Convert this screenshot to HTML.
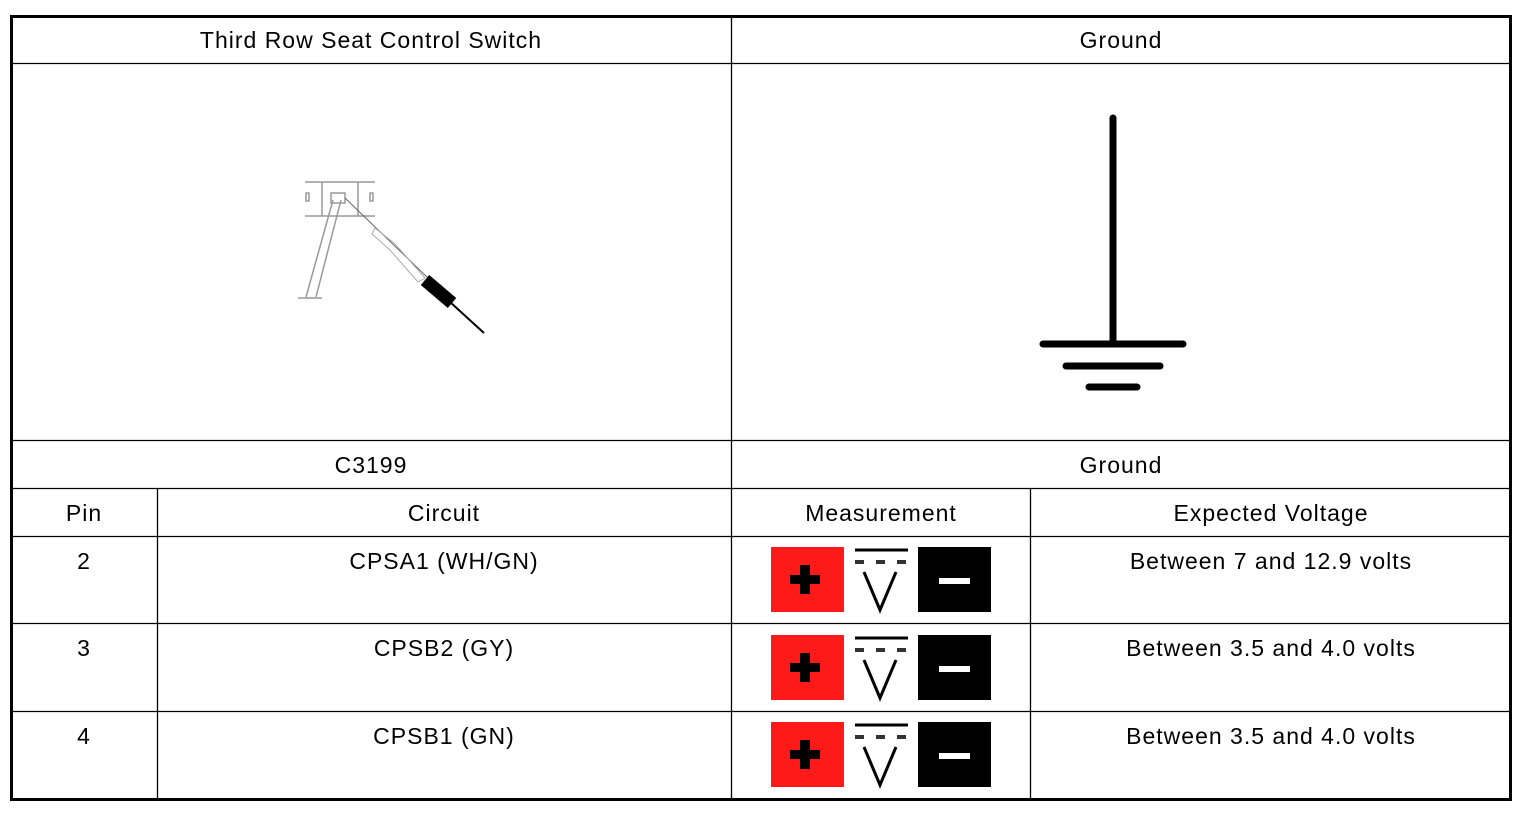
<!DOCTYPE html>
<html><head><style>
body{margin:0;background:#fff;}
svg{display:block}
text{font-family:"Liberation Sans",sans-serif;font-size:23px;letter-spacing:1px;fill:#000;}
</style></head><body>
<svg width="1526" height="814" xmlns="http://www.w3.org/2000/svg">
<rect x="11.5" y="16.5" width="1499" height="783" fill="none" stroke="#000" stroke-width="3"/>
<g stroke="#000" stroke-width="1.3">
<line x1="11" y1="63.5" x2="1511" y2="63.5"/>
<line x1="11" y1="440.5" x2="1511" y2="440.5"/>
<line x1="11" y1="488.5" x2="1511" y2="488.5"/>
<line x1="11" y1="536.5" x2="1511" y2="536.5"/>
<line x1="11" y1="623.5" x2="1511" y2="623.5"/>
<line x1="11" y1="711.5" x2="1511" y2="711.5"/>
<line x1="731.5" y1="16" x2="731.5" y2="800"/>
<line x1="157.5" y1="488" x2="157.5" y2="800"/>
<line x1="1030.5" y1="488" x2="1030.5" y2="800"/>
</g>
<g text-anchor="middle">
<text x="371" y="48">Third Row Seat Control Switch</text>
<text x="1121" y="48">Ground</text>
<text x="371" y="473">C3199</text>
<text x="1121" y="473">Ground</text>
<text x="84" y="521">Pin</text>
<text x="444" y="521">Circuit</text>
<text x="881" y="521">Measurement</text>
<text x="1271" y="521">Expected Voltage</text>
<text x="84" y="569">2</text>
<text x="444" y="569">CPSA1 (WH/GN)</text>
<text x="1271" y="569">Between 7 and 12.9 volts</text>
<text x="84" y="656">3</text>
<text x="444" y="656">CPSB2 (GY)</text>
<text x="1271" y="656">Between 3.5 and 4.0 volts</text>
<text x="84" y="744">4</text>
<text x="444" y="744">CPSB1 (GN)</text>
<text x="1271" y="744">Between 3.5 and 4.0 volts</text>
</g>
<g stroke="#000" stroke-linecap="round">
<line x1="1113" y1="118" x2="1113" y2="343" stroke-width="7"/>
<line x1="1043" y1="344" x2="1183" y2="344" stroke-width="7"/>
<line x1="1066" y1="366" x2="1160" y2="366" stroke-width="7"/>
<line x1="1089" y1="387" x2="1137" y2="387" stroke-width="7"/>
</g>
<g stroke="#999" stroke-width="1.5" fill="none">
<line x1="305" y1="182" x2="375" y2="182"/>
<line x1="305" y1="216" x2="375" y2="216"/>
<line x1="322" y1="182" x2="322" y2="216"/>
<line x1="358" y1="182" x2="358" y2="216"/>
<rect x="306" y="193" width="3" height="8"/>
<rect x="370" y="193" width="3" height="8"/>
<rect x="331" y="193" width="14" height="10"/>
<line x1="333" y1="200" x2="306" y2="297"/>
<line x1="341" y1="200" x2="316" y2="297"/>
<line x1="298" y1="298" x2="322" y2="298"/>
</g>
<g stroke="#666" fill="none">
<line x1="345" y1="198" x2="428" y2="278" stroke-width="1"/>
<path d="M375 228 L395 244 L425 278 L418 282 L390 250 L372 234 Z" stroke="#aaa"/>
</g>
<line x1="425" y1="280" x2="452" y2="303" stroke="#000" stroke-width="13"/>
<line x1="450" y1="302" x2="484" y2="333" stroke="#000" stroke-width="2"/>
<defs>
<g id="m">
<rect x="771" y="0" width="73" height="65" fill="#ff1a1a"/>
<rect x="790" y="28" width="30" height="9" fill="#000"/>
<rect x="800" y="18" width="10" height="29" fill="#000"/>
<line x1="855" y1="3" x2="908" y2="3" stroke="#000" stroke-width="3"/>
<g stroke="#333" stroke-width="4"><line x1="855" y1="15" x2="864" y2="15"/><line x1="876" y1="15" x2="885" y2="15"/><line x1="897" y1="15" x2="906" y2="15"/></g>
<path d="M864 25 L880 63 L896 25" fill="none" stroke="#000" stroke-width="3"/>
<rect x="918" y="0" width="73" height="65" fill="#000"/>
<rect x="939" y="31" width="31" height="6" fill="#fff"/>
</g>
</defs>
<use href="#m" y="547"/>
<use href="#m" y="635"/>
<use href="#m" y="722"/>
</svg>
</body></html>
